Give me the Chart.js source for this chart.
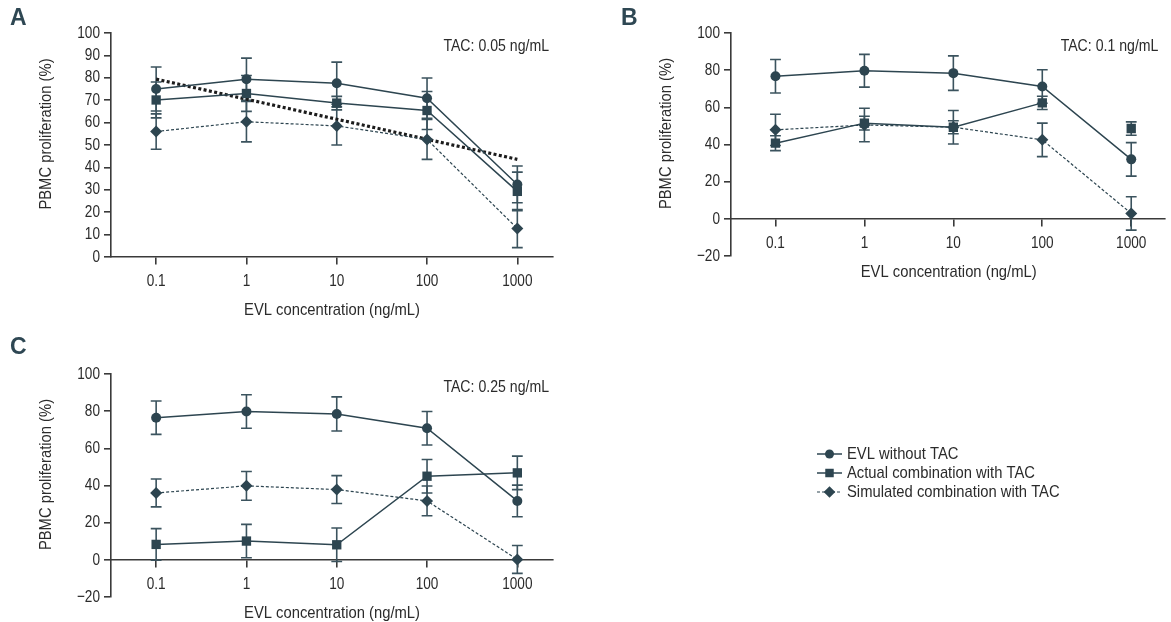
<!DOCTYPE html>
<html><head><meta charset="utf-8">
<script src="https://cdn.jsdelivr.net/npm/chart.js@4.4.1/dist/chart.umd.min.js"></script>
<style>
html,body{margin:0;padding:0;background:#fff;}
#wrap{position:relative;width:1171px;height:622px;overflow:hidden;background:#fff;}
canvas{position:absolute;left:0;top:0;}
</style></head><body>
<div id="wrap">
<canvas id="cA" width="1171" height="622"></canvas>
<canvas id="cB" width="1171" height="622"></canvas>
<canvas id="cC" width="1171" height="622"></canvas>
</div>
<script>
// ---------- data ----------
const xLabels = ['0.1', '1', '10', '100', '1000'];
const xPositions = [0, 1, 2, 3, 4];
const yTicksA = [0, 10, 20, 30, 40, 50, 60, 70, 80, 90, 100];
const yTicksBC = [-20, 0, 20, 40, 60, 80, 100];
const seriesNames = ['EVL without TAC', 'Actual combination with TAC', 'Simulated combination with TAC'];

// Panel A (TAC 0.05 ng/mL)
const aEvl = [75.0, 79.4, 77.6, 70.9, 32.4];
const aEvlErr = [9.8, 9.4, 9.4, 9.0, 8.2];
const aActual = [70.1, 73.0, 68.7, 65.4, 29.3];
const aActualErr = [8.0, 8.0, 3.0, 8.5, 8.6];
const aSim = [56.0, 60.4, 58.5, 52.5, 12.7];
const aSimErr = [7.9, 9.0, 8.5, 8.9, 8.5];
const aTrend = [79.4, null, null, null, 43.6];

// Panel B (TAC 0.1 ng/mL)
const bEvl = [76.7, 79.7, 78.4, 71.2, 32.0];
const bEvlErr = [9.0, 8.8, 9.3, 9.0, 9.0];
const bActual = [40.7, 51.5, 49.3, 62.4, 48.6];
const bActualErr = [4.0, 3.7, 3.5, 3.6, 3.6];
const bSim = [47.9, 50.5, 49.3, 42.5, 2.9];
const bSimErr = [8.4, 9.0, 9.0, 9.0, 9.0];

// Panel C (TAC 0.25 ng/mL)
const cEvl = [76.5, 79.8, 78.5, 70.8, 31.7];
const cEvlErr = [9.0, 9.0, 9.2, 9.0, 8.5];
const cActual = [8.3, 10.1, 8.1, 45.0, 46.8];
const cActualErr = [8.5, 9.0, 9.0, 9.0, 9.0];
const cSim = [36.0, 39.8, 37.8, 31.7, 0.2];
const cSimErr = [7.5, 7.7, 7.5, 8.0, 7.5];

// ---------- style ----------
const FONT = "'Liberation Sans', Arial, sans-serif";
const SERIES = '#2d4550';
const ERRC = '#3b535e';
const AXIS = '#3a3a3a';
const TEXT = '#2b2b2b';
const LETTER = '#2e4753';
const NUM_SX = 0.8;   // condensed look for numeric labels
const TEXT_SX = 0.87; // condensed look for words
Chart.defaults.font.family = FONT;
Chart.defaults.color = TEXT;

// emulate a condensed typeface: narrow every text run around its anchor point
(function () {
  const proto = CanvasRenderingContext2D.prototype;
  const orig = proto.fillText;
  proto.fillText = function (text, x, y, maxWidth) {
    const s = this.__sx || (/^[\d.\u2212\-]+$/.test(String(text)) ? NUM_SX : TEXT_SX);
    this.save();
    this.translate(x, y);
    this.scale(s, 1);
    if (maxWidth === undefined || maxWidth === null) orig.call(this, text, 0, 0);
    else orig.call(this, text, 0, 0, maxWidth / s);
    this.restore();
  };
})();

function pts(vals) { return vals.map((v, i) => ({x: xPositions[i], y: v})); }
function minusFmt(v) { return v < 0 ? '\u2212' + Math.abs(v) : String(v); }

function dsEvl(vals, errs) {
  return {label: seriesNames[0], data: pts(vals), errors: errs, borderColor: SERIES, backgroundColor: SERIES,
    borderWidth: 1.5, pointStyle: 'circle', pointRadius: 5, pointHoverRadius: 5, pointBorderWidth: 0};
}
function dsActual(vals, errs, joinLast) {
  return {label: seriesNames[1], data: pts(vals), errors: errs, borderColor: SERIES, backgroundColor: SERIES,
    borderWidth: 1.5, pointStyle: 'rect', pointRadius: 6.6, pointHoverRadius: 6.6, pointBorderWidth: 0,
    segment: {borderColor: c => (!joinLast && c.p1DataIndex === 4) ? 'rgba(0,0,0,0)' : undefined}};
}
function dsSim(vals, errs) {
  return {label: seriesNames[2], data: pts(vals), errors: errs, borderColor: SERIES, backgroundColor: SERIES,
    borderWidth: 1.2, borderDash: [3, 2], pointStyle: 'rectRot', pointRadius: 6, pointHoverRadius: 6, pointBorderWidth: 0};
}
function dsTrend(vals) {
  return {label: 'trend', data: pts(vals), borderColor: '#1c1c1c', borderWidth: 3.2, borderDash: [3, 2.4],
    pointRadius: 0, pointHoverRadius: 0, spanGaps: true, legendSkip: true};
}

function xScale(xMax) {
  return {
    type: 'linear', position: {y: 0}, min: -0.5, max: xMax,
    afterBuildTicks: s => { s.ticks = xPositions.map(v => ({value: v})); },
    afterFit: s => { s.height = 0; },
    grid: {drawOnChartArea: false, drawTicks: true, tickLength: 7, color: AXIS, lineWidth: 1.6},
    border: {display: true, color: AXIS, width: 1.6},
    ticks: {padding: 7, color: TEXT, font: {size: 17}, maxRotation: 0, autoSkip: false,
      callback: v => xLabels[xPositions.indexOf(v)]}
  };
}
function yScale(ticksArr) {
  return {
    type: 'linear', position: 'left', min: ticksArr[0], max: ticksArr[ticksArr.length - 1],
    afterBuildTicks: s => { s.ticks = ticksArr.map(v => ({value: v})); },
    afterFit: s => { s.width = 60; },
    grid: {drawOnChartArea: false, drawTicks: true, tickLength: 7, color: AXIS, lineWidth: 1.6},
    border: {display: true, color: AXIS, width: 1.6},
    ticks: {padding: 4, color: TEXT, font: {size: 17}, autoSkip: false, callback: v => minusFmt(v)}
  };
}

const errorBars = {
  id: 'errorBars',
  beforeDatasetsDraw(chart) {
    const {ctx} = chart; const x = chart.scales.x, y = chart.scales.y;
    ctx.save();
    ctx.strokeStyle = ERRC; ctx.lineWidth = 1.6; ctx.setLineDash([]);
    chart.data.datasets.forEach(ds => {
      if (!ds.errors) return;
      ds.data.forEach((p, j) => {
        const e = ds.errors[j];
        if (e == null || p.y == null) return;
        const px = x.getPixelForValue(p.x);
        const yt = y.getPixelForValue(p.y + e), yb = y.getPixelForValue(p.y - e);
        ctx.beginPath();
        ctx.moveTo(px, yt); ctx.lineTo(px, yb);
        ctx.moveTo(px - 5.4, yt); ctx.lineTo(px + 5.4, yt);
        ctx.moveTo(px - 5.4, yb); ctx.lineTo(px + 5.4, yb);
        ctx.stroke();
      });
    });
    ctx.restore();
  }
};

const panelText = {
  id: 'panelText',
  afterDraw(chart, args, o) {
    const {ctx, chartArea: ca} = chart;
    const y0 = chart.scales.y.getPixelForValue(Math.max(0, chart.scales.y.min));
    ctx.save();
    ctx.fillStyle = LETTER;
    ctx.font = "bold 23px " + FONT;
    ctx.textAlign = 'left'; ctx.textBaseline = 'middle';
    ctx.__sx = 1;
    ctx.fillText(o.letter, o.lx, o.ly);
    ctx.__sx = 0.83;
    ctx.fillStyle = TEXT;
    ctx.font = "17px " + FONT;
    ctx.textAlign = 'right';
    ctx.fillText(o.tac, ca.right - o.tacR, ca.top + 13);
    ctx.__sx = 0;
    ctx.textAlign = 'center';
    ctx.fillText(o.xTitle, (ca.left + ca.right + o.xTitleShift) / 2, y0 + 53);
    ctx.translate(ca.left - 65, (ca.top + ca.bottom) / 2 - 11);
    ctx.rotate(-Math.PI / 2);
    ctx.fillText(o.yTitle, 0, 0);
    ctx.restore();
    ctx.__sx = 0;
  }
};

const legendPlugin = {
  id: 'customLegend',
  afterDraw(chart, args, o) {
    if (!o.show) return;
    const {ctx} = chart;
    const radii = [4.5, 6.0, 5.8];
    ctx.save();
    chart.data.datasets.filter(d => !d.legendSkip).forEach((ds, i) => {
      const yy = o.y + i * o.gap;
      ctx.strokeStyle = ds.borderColor; ctx.lineWidth = ds.borderWidth;
      ctx.setLineDash(ds.borderDash || []);
      ctx.beginPath(); ctx.moveTo(o.x1, yy); ctx.lineTo(o.x2, yy); ctx.stroke();
      ctx.setLineDash([]);
      ctx.fillStyle = ds.backgroundColor;
      Chart.helpers.drawPoint(ctx, {pointStyle: ds.pointStyle, radius: radii[i], rotation: 0, borderWidth: 0}, (o.x1 + o.x2) / 2, yy);
      ctx.fillStyle = TEXT;
      ctx.font = "17px " + FONT;
      ctx.textAlign = 'left'; ctx.textBaseline = 'middle';
      ctx.fillText(ds.label, o.x2 + 5, yy + 0.5);
    });
    ctx.restore();
  }
};

function makeChart(id, area, datasets, yTicks, xMax, text, legend) {
  return new Chart(document.getElementById(id), {
    type: 'line',
    data: {datasets},
    options: {
      responsive: false, animation: false, events: [],
      layout: {padding: {left: area.left - 60, top: area.top, right: 1171 - area.right, bottom: 622 - area.bottom}},
      scales: {x: xScale(xMax), y: yScale(yTicks)},
      plugins: {legend: {display: false}, tooltip: {enabled: false}, panelText: text, customLegend: legend || {show: false}}
    },
    plugins: [errorBars, panelText, legendPlugin]
  });
}

const XT = 'EVL concentration (ng/mL)';
const YT = 'PBMC proliferation (%)';

makeChart('cA', {left: 111, top: 33, right: 553, bottom: 257},
  [dsEvl(aEvl, aEvlErr), dsActual(aActual, aActualErr, true), dsSim(aSim, aSimErr), dsTrend(aTrend)],
  yTicksA, 4.395,
  {letter: 'A', lx: 10, ly: 19, tac: 'TAC: 0.05 ng/mL', tacR: 4, xTitle: XT, yTitle: YT, xTitleShift: 0});

makeChart('cB', {left: 731, top: 33, right: 1171, bottom: 256},
  [dsEvl(bEvl, bEvlErr), dsActual(bActual, bActualErr, false), dsSim(bSim, bSimErr)],
  yTicksBC, 4.373,
  {letter: 'B', lx: 621, ly: 19, tac: 'TAC: 0.1 ng/mL', tacR: 6, xTitle: XT, yTitle: YT, xTitleShift: 2});

makeChart('cC', {left: 111, top: 374, right: 553, bottom: 597},
  [dsEvl(cEvl, cEvlErr), dsActual(cActual, cActualErr, true), dsSim(cSim, cSimErr)],
  yTicksBC, 4.395,
  {letter: 'C', lx: 10, ly: 348, tac: 'TAC: 0.25 ng/mL', tacR: 4, xTitle: XT, yTitle: YT, xTitleShift: 0},
  {show: true, x1: 817, x2: 842, y: 454, gap: 19});
</script>
</body></html>
